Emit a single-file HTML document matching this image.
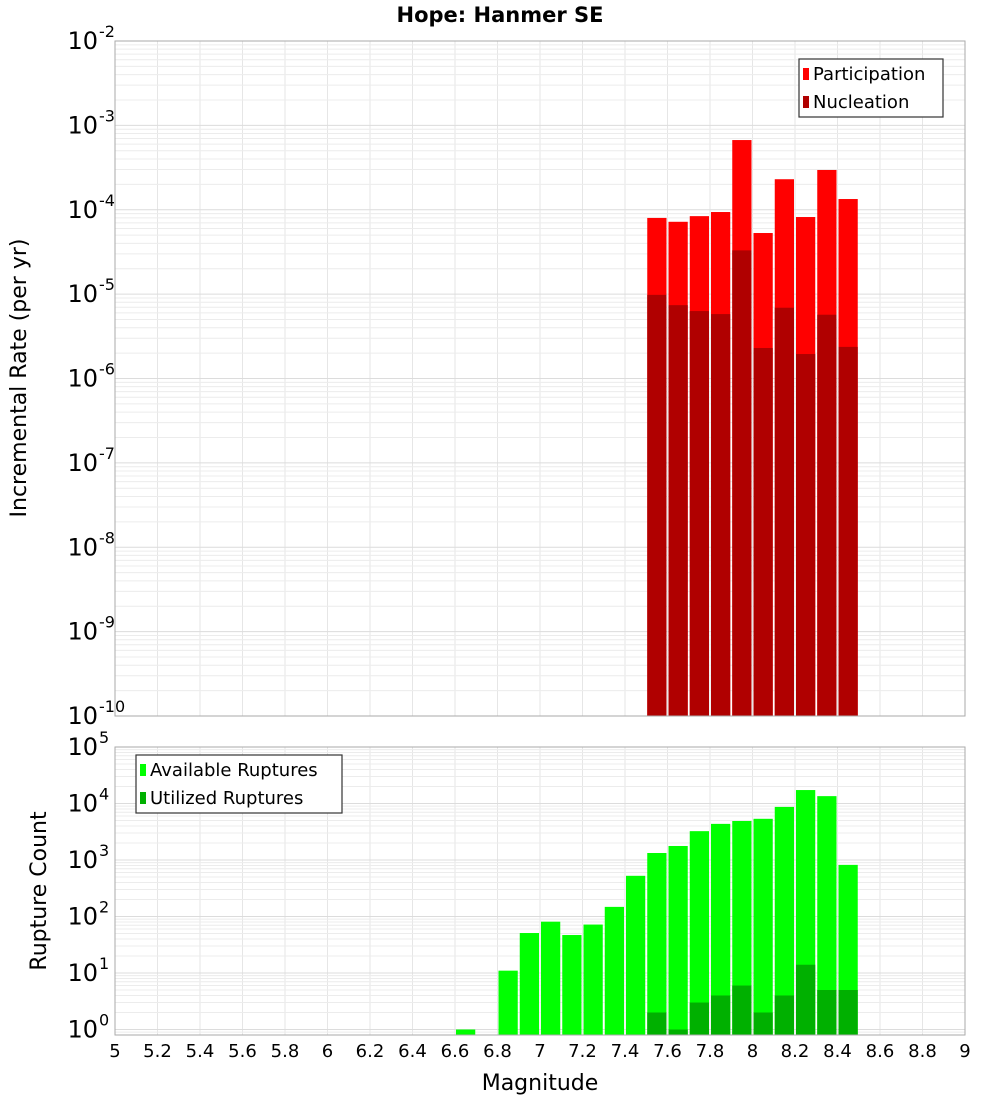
<!DOCTYPE html>
<html><head><meta charset="utf-8"><style>
body{margin:0;background:#fff;font-family:"Liberation Sans","DejaVu Sans",sans-serif}
svg text{font-family:"DejaVu Sans","Liberation Sans",sans-serif;fill:#000}
</style></head><body>
<svg id="c" width="1000" height="1100" xmlns="http://www.w3.org/2000/svg"></svg>
<script>
const binStarts=[7.5,7.6,7.7,7.8,7.9,8.0,8.1,8.2,8.3,8.4];
const participation=[8.0e-5,7.2e-5,8.4e-5,9.4e-5,6.7e-4,5.3e-5,2.3e-4,8.2e-5,2.96e-4,1.34e-4];
const nucleation=[9.8e-6,7.4e-6,6.3e-6,5.8e-6,3.3e-5,2.3e-6,6.9e-6,1.95e-6,5.7e-6,2.37e-6];
const countBins=[6.6,6.7,6.8,6.9,7.0,7.1,7.2,7.3,7.4,7.5,7.6,7.7,7.8,7.9,8.0,8.1,8.2,8.3,8.4];
const available=[1,0,11,51,81,47,72,148,525,1330,1770,3240,4360,4900,5360,8700,17300,13500,820];
const utilized=[0,0,0,0,0,0,0,0,0,2,1,3,4,6,2,4,14,5,5];
const xTicks=[5,5.2,5.4,5.6,5.8,6,6.2,6.4,6.6,6.8,7,7.2,7.4,7.6,7.8,8,8.2,8.4,8.6,8.8,9];
const topExps=[-10,-9,-8,-7,-6,-5,-4,-3,-2];
const botExps=[0,1,2,3,4,5];

const svg=document.getElementById('c');
const NS='http://www.w3.org/2000/svg';
function mk(tag,attrs,parent){const e=document.createElementNS(NS,tag);for(const k in attrs)e.setAttribute(k,attrs[k]);(parent||svg).appendChild(e);return e;}
const X0=115,X1=965;
const x=m=>X0+(m-5)/4*(X1-X0);
const T0=41,T1=716;
const yTop=v=>T0+(-2-Math.log10(v))*(T1-T0)/8;
const B0=747,B1=1035,BD=56.5;
const yBot=v=>Math.min(B1,B0+(5-Math.log10(v))*BD);

function grid(y0,y1,yf,exps,lo){
  const g=mk('g',{});
  
  
  for(const t of xTicks){mk('line',{x1:x(t),x2:x(t),y1:y0,y2:y1,stroke:'#e6e6e6','stroke-width':1},g);}
  for(let i=0;i<exps.length;i++){
    const e=exps[i];
    for(let k=1;k<=9;k++){
      const v=k*Math.pow(10,e);const yy=yf(v);
      if(yy<y0-0.1||yy>y1+0.1)continue;
      mk('line',{x1:X0,x2:X1,y1:yy,y2:yy,stroke:k==1?'#dcdcdc':'#ececec','stroke-width':1},g);
    }
  }
  for(let k=8;k<=9;k++){const yy=yf(k*Math.pow(10,lo-1));if(yy<y1)mk('line',{x1:X0,x2:X1,y1:yy,y2:yy,stroke:'#ececec'},g);}
}
grid(T0,T1,yTop,topExps,-10);
grid(B0,B1,yBot,botExps,0);

// top bars
for(let i=0;i<binStarts.length;i++){
  const xa=x(binStarts[i])+1,xb=x(binStarts[i]+0.1)-1;
  let r=mk('rect',{x:xa,y:yTop(participation[i]),width:xb-xa,height:T1-yTop(participation[i]),fill:'#ff0000'});
  
  
  r=mk('rect',{x:xa,y:yTop(nucleation[i]),width:xb-xa,height:T1-yTop(nucleation[i]),fill:'#b00000'});
  
  
}
// bottom bars
for(let i=0;i<countBins.length;i++){
  const xa=x(countBins[i])+1,xb=x(countBins[i]+0.1)-1;
  if(available[i]>0){
    const r=mk('rect',{x:xa,y:yBot(available[i]),width:xb-xa,height:B1-yBot(available[i]),fill:'#00ff00'});
    
    
  }
  if(utilized[i]>0){
    const r=mk('rect',{x:xa,y:yBot(utilized[i]),width:xb-xa,height:B1-yBot(utilized[i]),fill:'#00b000'});
    
    
  }
}
// frames
mk('rect',{x:X0,y:T0,width:X1-X0,height:T1-T0,fill:'none',stroke:'#aaa'});
mk('rect',{x:X0,y:B0,width:X1-X0,height:B1-B0,fill:'none',stroke:'#aaa'});

function pow(xr,yy,e,name){
  const t=mk('text',{x:xr,y:yy+8,'text-anchor':'end','font-size':24});
  
  
  t.textContent='10';
  const s=mk('text',{x:xr+1,y:yy-4,'font-size':16});
  s.textContent=String(e);
}
for(const e of topExps){pow(98,yTop(Math.pow(10,e)),e,'y-tick-label');}
for(const e of botExps){pow(98,yBot(Math.pow(10,e)),e,'y2-tick-label');}
for(const t of xTicks){
  const tx=mk('text',{x:x(t),y:1057,'text-anchor':'middle','font-size':18});
  
  
  tx.textContent=String(t);
}
let t=mk('text',{x:540,y:1090,'text-anchor':'middle','font-size':22});
t.textContent='Magnitude';
t=mk('text',{x:0,y:0,'text-anchor':'middle','font-size':22,transform:'translate(26,378) rotate(-90)'});
t.textContent='Incremental Rate (per yr)';
t=mk('text',{x:0,y:0,'text-anchor':'middle','font-size':22,transform:'translate(46,891) rotate(-90)'});
t.textContent='Rupture Count';
t=mk('text',{x:500,y:22,'text-anchor':'middle','font-size':21,'font-weight':'bold'});
t.textContent='Hope: Hanmer SE';

function legend(x0,y0,w,items,name){
  const g=mk('g',{});
  
  
  mk('rect',{x:x0,y:y0,width:w,height:58,fill:'#fff',stroke:'#333','stroke-width':1.2},g);
  items.forEach((it,i)=>{
    mk('rect',{x:x0+4,y:y0+9+i*28,width:6,height:12,fill:it[1]},g);
    const tt=mk('text',{x:x0+14,y:y0+21+i*28,'font-size':18},g);tt.textContent=it[0];
  });
}
legend(799,59,144,[['Participation','#ff0000'],['Nucleation','#b00000']],'legend-top');
legend(136,755,206,[['Available Ruptures','#00ff00'],['Utilized Ruptures','#00b000']],'legend-bottom');
</script>
</body></html>
